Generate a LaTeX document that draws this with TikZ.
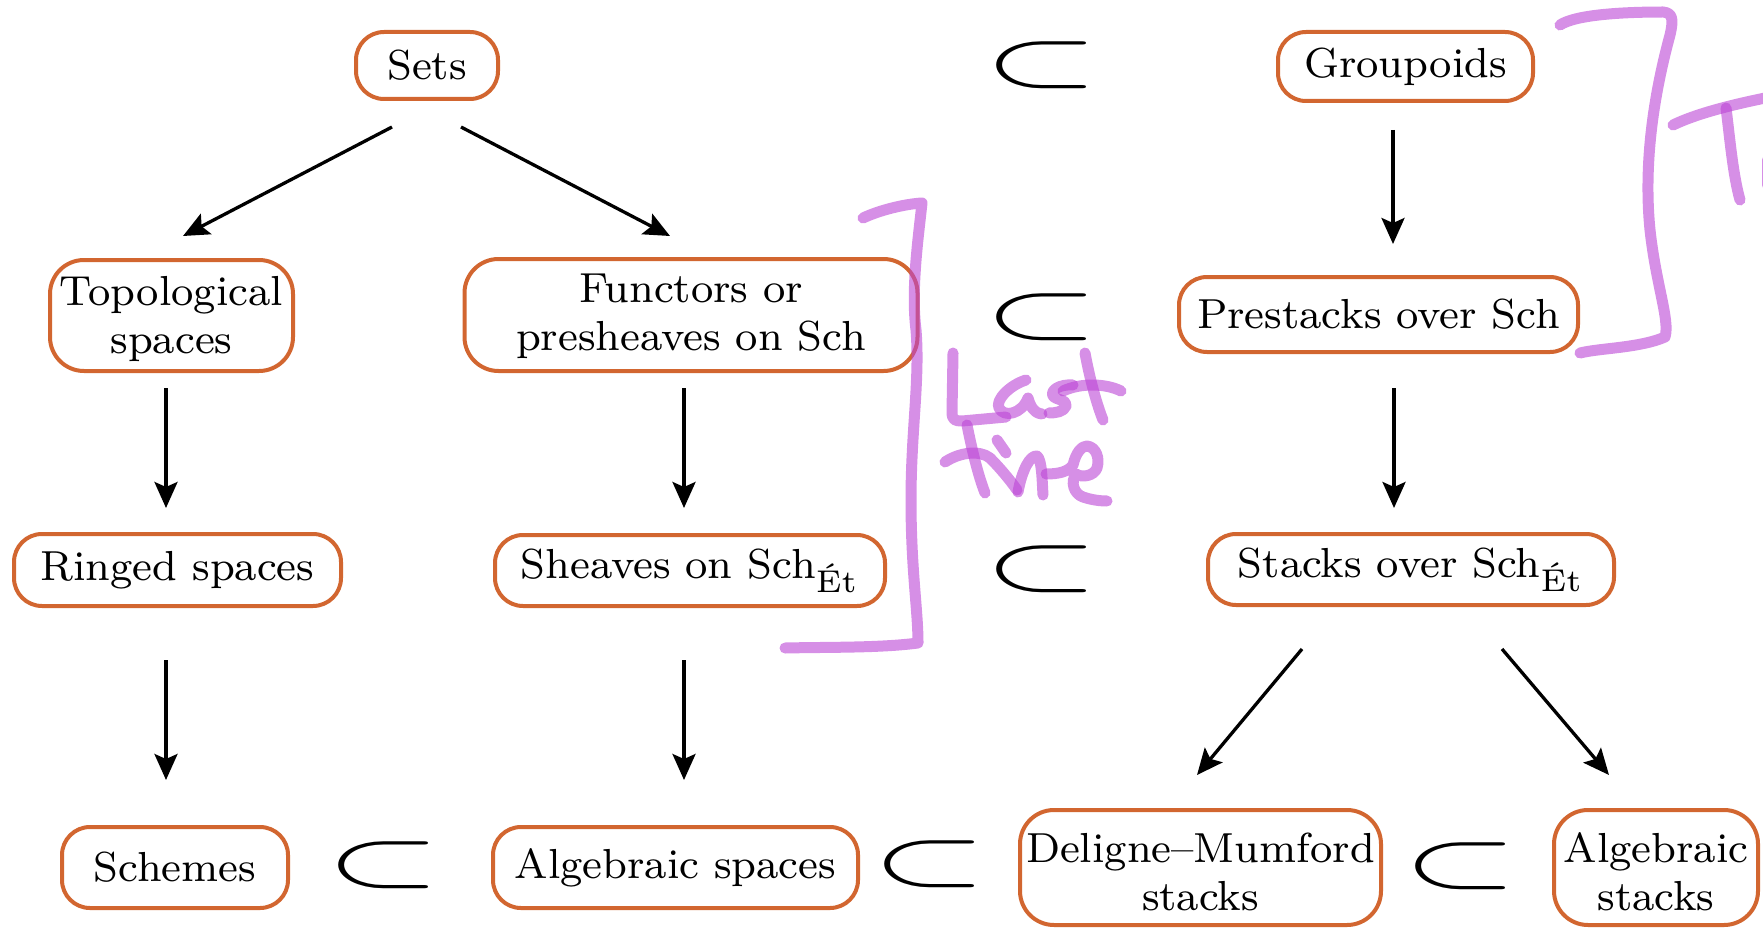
\documentclass[tikz,border=0pt]{standalone}
\usepackage{amsmath}
\usepackage{graphicx}
\usetikzlibrary{arrows.meta}
\definecolor{boxorange}{RGB}{210,102,48}
\definecolor{penpurple}{RGB}{187,68,213}
\newcommand{\nt}[1]{\scalebox{5.25}{\fontsize{8}{9.2}\selectfont #1}}
\newcommand{\ntt}[3]{\raisebox{-#1pt}[\height][\depth]{\scalebox{5.25}{\fontsize{8}{9.2}\selectfont\begin{tabular}{@{}c@{}}#2\\#3\end{tabular}}}}
\newcommand{\sbs}{\scalebox{14.7}[8.1]{$\subset$}}
\tikzset{
  box/.style={draw=boxorange, line width=4pt, rounded corners=28pt, inner sep=0pt, align=center},
  arr/.style={line width=3.3pt, -{Stealth[length=26pt,width=23pt,inset=5pt]}},
  hand/.style={draw=penpurple, draw opacity=0.6, line width=11pt, line cap=round, line join=round},
  sub/.style={inner sep=0pt}
}
\begin{document}
\begin{tikzpicture}[x=1pt,y=-1pt]
\useasboundingbox (0,0) rectangle (1763,928);
\clip (0,0) rectangle (1763,928);
% nodes
\node[box, minimum width=142pt, minimum height=67pt] (sets) at (427,65.5) {\nt{Sets}};
\node[box, minimum width=255pt, minimum height=69pt] (groupoids) at (1405.5,66.5) {\nt{Groupoids}};
\node[box, minimum width=243pt, minimum height=111pt, rounded corners=34pt] (topo) at (171.5,315.5) {\ntt{4}{Topological}{spaces}};
\node[box, minimum width=453pt, minimum height=112pt, rounded corners=34pt] (functors) at (691,315) {\ntt{2}{Functors or}{presheaves on Sch}};
\node[box, minimum width=399pt, minimum height=75pt] (prestacks) at (1378.5,314.5) {\nt{Prestacks over Sch}};
\node[box, minimum width=327pt, minimum height=72pt] (ringed) at (177.5,570) {\nt{Ringed spaces}};
\node[box, minimum width=390pt, minimum height=71pt] (sheaves) at (690,570.5) {\nt{Sheaves on Sch$_{\text{Ét}}$}};
\node[box, minimum width=406pt, minimum height=71pt] (stacks) at (1411,569.5) {\nt{Stacks over Sch$_{\text{Ét}}$}};
\node[box, minimum width=226pt, minimum height=81pt] (schemes) at (175,867.5) {\nt{Schemes}};
\node[box, minimum width=365pt, minimum height=81pt] (algspaces) at (675.5,867.5) {\nt{Algebraic spaces}};
\node[box, minimum width=361pt, minimum height=115pt, rounded corners=34pt] (dm) at (1200.5,867.5) {\ntt{9}{Deligne–Mumford}{stacks}};
\node[box, minimum width=204pt, minimum height=115pt, rounded corners=34pt] (algstacks) at (1656,867.5) {\ntt{9}{Algebraic}{stacks}};
% subset symbols
\node[sub] (sub1) at (1042,65) {\sbs};
\node[sub] (sub2) at (1042,317) {\sbs};
\node[sub] (sub3) at (1042,569.5) {\sbs};
\node[sub] (sub4) at (384,865.5) {\sbs};
\node[sub] (sub5) at (930,864) {\sbs};
\node[sub] (sub6) at (1461,866.5) {\sbs};
% arrow end points
\coordinate (a1s) at (392,127); \coordinate (a1e) at (183,236);
\coordinate (a2s) at (461,127); \coordinate (a2e) at (670,236);
\coordinate (a3s) at (1393,130); \coordinate (a3e) at (1393,244);
\coordinate (a4s) at (166,388); \coordinate (a4e) at (166,508);
\coordinate (a5s) at (684,388); \coordinate (a5e) at (684,508);
\coordinate (a6s) at (1394,388); \coordinate (a6e) at (1394,508);
\coordinate (a7s) at (166,660); \coordinate (a7e) at (166,780);
\coordinate (a8s) at (684,660); \coordinate (a8e) at (684,780);
\coordinate (a9s) at (1302,649); \coordinate (a9e) at (1197,775);
\coordinate (a10s) at (1502,649); \coordinate (a10e) at (1609,775);
\draw[arr] (a1s) -- (a1e);
\draw[arr] (a2s) -- (a2e);
\draw[arr] (a3s) -- (a3e);
\draw[arr] (a4s) -- (a4e);
\draw[arr] (a5s) -- (a5e);
\draw[arr] (a6s) -- (a6e);
\draw[arr] (a7s) -- (a7e);
\draw[arr] (a8s) -- (a8e);
\draw[arr] (a9s) -- (a9e);
\draw[arr] (a10s) -- (a10e);
% handwriting: bracket right
\draw[hand] (1560,25) .. controls (1575,15) and (1620,12) .. (1663,12) .. controls (1672,13) and (1674,18) .. (1670,35) .. controls (1655,90) and (1643,160) .. (1650,230) .. controls (1656,285) and (1670,320) .. (1665,337) .. controls (1640,348) and (1600,348) .. (1580,353);
\draw[hand] (1673,125) .. controls (1700,112) and (1740,103) .. (1775,96);
\draw[hand] (1726,108) .. controls (1730,140) and (1733,175) .. (1740,200);
\draw[hand] (1767,160) -- (1767,185);
% bracket last time
\draw[hand] (863,218) .. controls (880,210) and (905,204) .. (922,203) .. controls (918,240) and (911,290) .. (916,330) .. controls (920,380) and (911,430) .. (911,500) .. controls (911,570) and (918,610) .. (918,643) .. controls (880,648) and (830,647) .. (785,648);
% Last
\draw[hand] (953,353) -- (952,412) .. controls (952,420) and (955,421) .. (962,421) -- (1006,417);
\draw[hand] (1026,380) .. controls (1010,385) and (995,400) .. (999,408) .. controls (1004,418) and (1022,414) .. (1028,398) .. controls (1030,405) and (1033,413) .. (1042,414);
\draw[hand] (1073,385) .. controls (1060,384) and (1050,390) .. (1053,396) .. controls (1056,400) and (1068,400) .. (1066,406) .. controls (1064,412) and (1055,413) .. (1049,413);
\draw[hand] (1085,353) .. controls (1090,380) and (1097,405) .. (1103,420);
\draw[hand] (1063,391) .. controls (1080,383) and (1105,383) .. (1121,391);
% time
\draw[hand] (967,425) .. controls (972,450) and (978,475) .. (985,493);
\draw[hand] (945,462) .. controls (960,452) and (980,450) .. (990,458) .. controls (1000,468) and (1010,480) .. (1017,490);
\draw[hand] (997,440) -- (1006,453);
\draw[hand] (1018,492) .. controls (1022,470) and (1030,455) .. (1037,456) .. controls (1042,460) and (1042,480) .. (1043,495);
\draw[hand] (1046,474) .. controls (1058,474) and (1068,472) .. (1073,465) .. controls (1076,452) and (1082,446) .. (1087,446) .. controls (1096,447) and (1100,458) .. (1097,468) .. controls (1094,476) and (1082,478) .. (1076,474) .. controls (1070,482) and (1074,494) .. (1083,497) .. controls (1092,500) and (1100,501) .. (1107,501);
\end{tikzpicture}
\end{document}
